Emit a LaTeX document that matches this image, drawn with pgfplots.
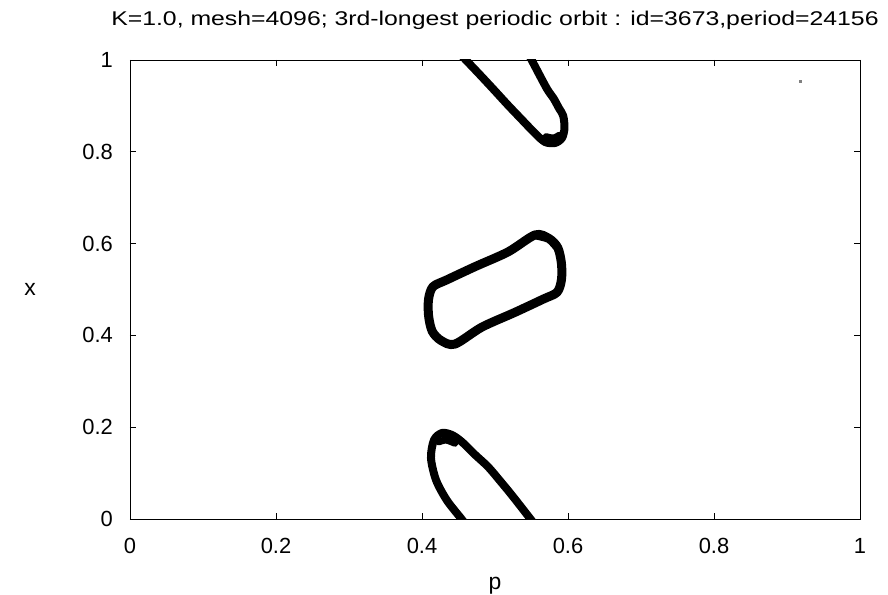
\documentclass[border=0pt]{standalone}
\usepackage{fontspec}
\setmainfont{Liberation Sans}
\usepackage{graphicx}
\usepackage{pgfplots}
\pgfplotsset{compat=1.18}
\begin{document}
\begin{tikzpicture}
\useasboundingbox (-130bp,-76bp) rectangle (758bp,519bp);
\begin{axis}[
  at={(0,0)}, anchor=south west,
  scale only axis, width=730bp, height=459bp,
  xmin=0, xmax=1, ymin=0, ymax=1,
  xtick={0,0.2,0.4,0.6,0.8,1}, ytick={0,0.2,0.4,0.6,0.8,1},
  xticklabels={0,0.2,0.4,0.6,0.8,1}, yticklabels={0,0.2,0.4,0.6,0.8,1},
  tick align=inside, major tick length=6bp,
  every tick/.style={black, line width=0.8bp},
  axis line style={line width=0.8bp},
  /pgf/number format/assume math mode=true,
  tick label style={font=\fontsize{22}{26}\selectfont, inner sep=0pt},
  xticklabel style={anchor=base, yshift=-34bp},
  yticklabel style={anchor=east, xshift=-17bp},
  title={\scalebox{1.31}[1.05]{K=1.0, mesh=4096; 3rd-longest periodic orbit : id=3673,period=24156}},
  title style={font=\fontsize{19}{22}\selectfont, at={(0.5,1)}, anchor=base, yshift=29bp, inner sep=0pt},
  xlabel={p}, ylabel={x},
  xlabel style={font=\fontsize{23}{26}\selectfont, at={(0.5,0)}, anchor=base, yshift=-70bp, inner sep=0pt},
  ylabel style={font=\fontsize{23}{26}\selectfont, at={(0,0.5)}, anchor=center, rotate=-90, xshift=-100bp},
]
% middle loop
\addplot[black, line width=9bp, smooth, line cap=round, line join=round] coordinates {
(0.555,0.619) (0.574,0.611) (0.586,0.591) (0.591,0.557) (0.591,0.521) (0.585,0.494)
(0.566,0.479) (0.527,0.450) (0.482,0.418)
(0.445,0.381) (0.426,0.389) (0.414,0.409) (0.409,0.443) (0.409,0.479) (0.415,0.506)
(0.434,0.521) (0.473,0.550) (0.518,0.582)
(0.555,0.619) (0.574,0.611) (0.586,0.591)};
% top piece
\addplot[black, line width=8bp, smooth, line join=round] coordinates {
(0.442,1.03) (0.4623,0.9963) (0.481,0.965) (0.500,0.9325) (0.517,0.903) (0.5342,0.8743)
(0.5548,0.8403) (0.5685,0.8214) (0.5822,0.8192) (0.5918,0.8301) (0.5952,0.8519)
(0.5934,0.8786) (0.5877,0.8948) (0.580,0.917) (0.5708,0.9383) (0.5514,0.9963) (0.540,1.03)};
\addplot[black, line width=7bp, smooth, line cap=round] coordinates {
(0.570,0.833) (0.580,0.830) (0.588,0.836)};
% bottom piece
\addplot[black, line width=8bp, smooth, line join=round] coordinates {
(0.469,-0.03) (0.4534,0.0015) (0.4338,0.0414) (0.4192,0.0850) (0.4123,0.1329)
(0.4164,0.1721) (0.4274,0.1874) (0.4411,0.1830) (0.4548,0.1678) (0.472,0.141)
(0.4904,0.1139) (0.507,0.083) (0.5229,0.0523) (0.5479,0.0015) (0.563,-0.03)};
\addplot[black, line width=7bp, smooth, line cap=round] coordinates {
(0.423,0.168) (0.433,0.172) (0.445,0.165)};
% stray point
\addplot[only marks, mark=square*, mark size=0.9bp, gray] coordinates {(0.918,0.954)};
\end{axis}
\end{tikzpicture}
\end{document}
